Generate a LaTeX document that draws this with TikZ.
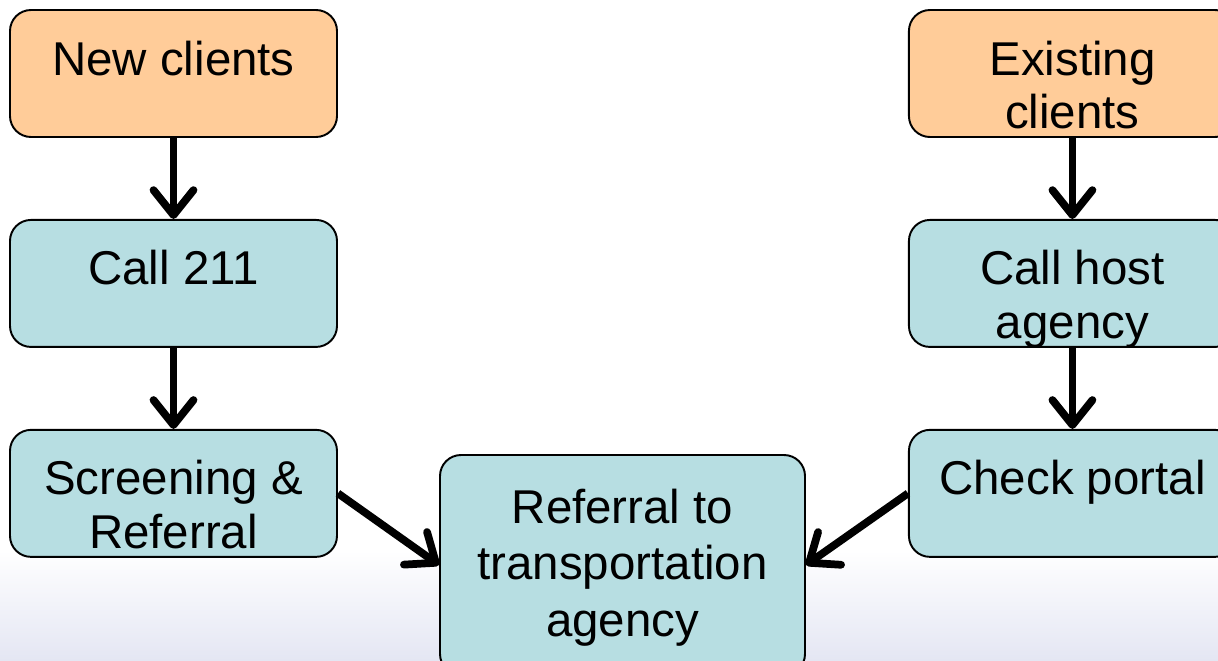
\documentclass[tikz,border=0pt]{standalone}
\usepackage{fontspec}
\setmainfont{Liberation Sans}
\usetikzlibrary{positioning,arrows.meta}

\definecolor{clientorange}{HTML}{FFCC99}
\definecolor{stepteal}{HTML}{B7DEE2}
\definecolor{fadeblue}{HTML}{E4E6F3}

% box text: top anchored, first baseline set by a strut
\newcommand{\boxtext}[4][1.3cm]{\parbox[c][#2][t]{#3}{\centering\rule{0pt}{#1}#4}}

\tikzset{
	flowbox/.style={draw=black, line width=1.1pt, rounded corners=0.42cm, inner sep=0pt, font={\fontsize{27}{30.7}\selectfont}},
	clientbox/.style={flowbox, fill=clientorange},
	stepbox/.style={flowbox, fill=stepteal},
	flowarrow/.style={line width=4.4pt, -{Straight Barb[length=0.5cm, width=0.8cm, round]}},
}

\begin{document}
\begin{tikzpicture}
	\useasboundingbox (0,0) rectangle (24.36,-13.22);
	\clip (0,0) rectangle (24.36,-13.22);
	\shade[top color=white, bottom color=fadeblue] (0,-11.0) rectangle (24.36,-13.22);

	% left column
	\node[clientbox] (new) at (3.47,-1.47) {\boxtext{2.54cm}{6.54cm}{New clients}};
	\node[stepbox, below=1.62cm of new] (call) {\boxtext{2.54cm}{6.54cm}{Call 211}};
	\node[stepbox, below=1.62cm of call] (screen) {\boxtext{2.54cm}{6.54cm}{Screening \&\\Referral}};

	% right column
	\node[clientbox, right=11.4cm of new] (existing) {\boxtext{2.54cm}{6.54cm}{Existing\\clients}};
	\node[stepbox, below=1.62cm of existing] (host) {\boxtext{2.54cm}{6.54cm}{Call host\\agency}};
	\node[stepbox, below=1.62cm of host] (portal) {\boxtext{2.54cm}{6.54cm}{Check portal}};

	\node[stepbox, font={\fontsize{27}{32.3}\selectfont}] (referral) at (12.45,-11.3) {\boxtext[1.36cm]{4.4cm}{7.3cm}{Referral to\\transportation\\agency}};

	\draw[flowarrow] (new) -- (call);
	\draw[flowarrow] (call) -- (screen);
	\draw[flowarrow] (existing) -- (host);
	\draw[flowarrow] (host) -- (portal);
	\draw[flowarrow] (screen.east) -- (referral.west);
	\draw[flowarrow] (portal.west) -- (referral.east);
\end{tikzpicture}
\end{document}
